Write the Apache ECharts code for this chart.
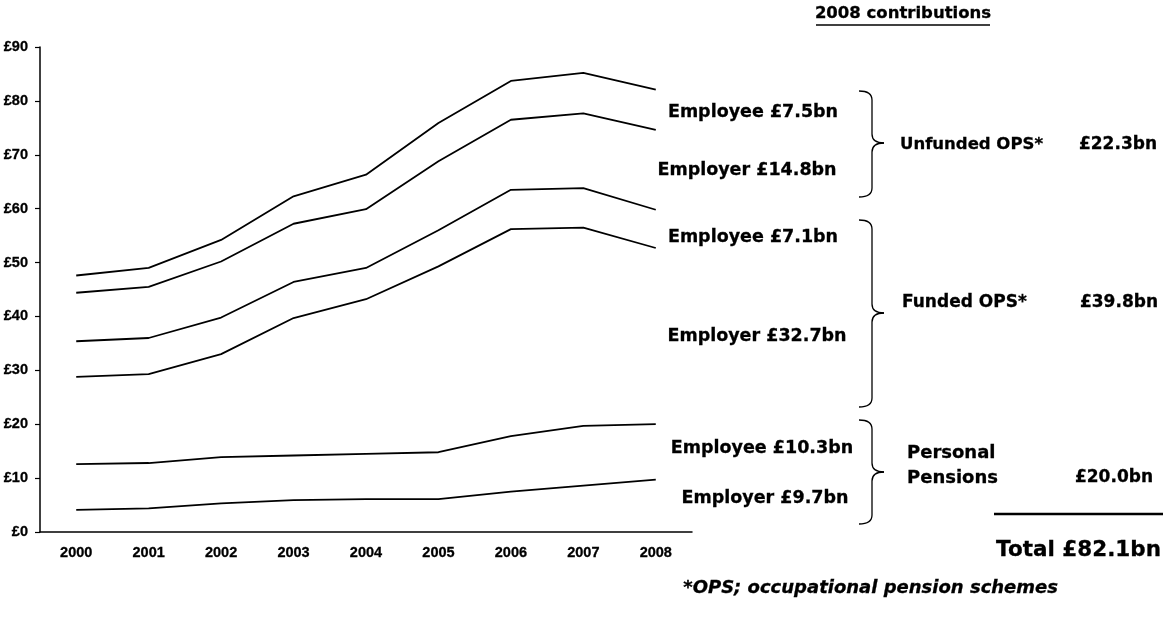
<!DOCTYPE html>
<html>
<head>
<meta charset="utf-8">
<script src="https://cdn.jsdelivr.net/npm/echarts@6/dist/echarts.min.js"></script>
<style>
  html, body { margin: 0; padding: 0; background: #fff; }
  #chart { width: 1163px; height: 618px; }
</style>
</head>
<body>
<div id="chart"></div>
<script>
// Pension contributions by scheme type, £bn (stacked from the bottom up)
const years = ['2000', '2001', '2002', '2003', '2004', '2005', '2006', '2007', '2008'];
const ppEmployer       = [4.1, 4.4, 5.3, 5.9, 6.1, 6.1, 7.5, 8.6, 9.7];
const ppEmployee       = [8.5, 8.4, 8.6, 8.3, 8.4, 8.7, 10.3, 11.1, 10.3];
const fundedEmployer   = [16.2, 16.5, 19.1, 25.5, 28.7, 34.5, 38.4, 36.8, 32.7];
const fundedEmployee   = [6.6, 6.7, 6.8, 6.7, 5.8, 6.7, 7.3, 7.3, 7.1];
const unfundedEmployer = [9.0, 9.5, 10.4, 10.8, 10.9, 12.8, 13.0, 13.9, 14.8];
const unfundedEmployee = [3.2, 3.5, 4.0, 5.1, 6.4, 7.1, 7.2, 7.5, 7.5];
const yTicks = [0, 10, 20, 30, 40, 50, 60, 70, 80, 90];

const FONT = '"DejaVu Sans", "Liberation Sans", Arial, sans-serif';
const AXIS_FONT = '"Liberation Sans", Arial, sans-serif';
const last = a => a[a.length - 1];
const bn = v => '£' + v.toFixed(1) + 'bn';

const unfundedTotal = last(unfundedEmployee) + last(unfundedEmployer);
const fundedTotal = last(fundedEmployee) + last(fundedEmployer);
const ppTotal = last(ppEmployee) + last(ppEmployer);
const grandTotal = unfundedTotal + fundedTotal + ppTotal;

function lineSeries(name, data) {
  return {
    name, type: 'line', stack: 'total', data,
    symbol: 'none', silent: true,
    lineStyle: { color: '#000', width: 1.8 },
    animation: false
  };
}

function text(str, x, y, size, opts = {}) {
  return {
    type: 'text', silent: true,
    style: {
      text: str, x, y,
      fill: '#000',
      stroke: '#000', lineWidth: 0.3,
      font: `${opts.italic ? 'italic ' : ''}bold ${size}px ${FONT}`,
      textAlign: opts.align || 'center',
      textVerticalAlign: 'middle'
    }
  };
}

// Right-hand curly brace: hook at x0, spine at xv, point at xt
function brace(x0, xv, xt, top, mid, bottom) {
  const r = 9;
  const st = { stroke: '#000', lineWidth: 1.3, fill: null };
  const bz = (x1, y1, cx, cy, x2, y2) => ({ type: 'bezierCurve', silent: true, shape: { x1, y1, cpx1: cx, cpy1: cy, x2, y2 }, style: st });
  const ln = (x1, y1, x2, y2) => ({ type: 'line', silent: true, shape: { x1, y1, x2, y2 }, style: st });
  return [
    bz(x0, top, xv, top, xv, top + r),
    ln(xv, top + r, xv, mid - r),
    bz(xv, mid - r, xv, mid, xt, mid),
    bz(xt, mid, xv, mid, xv, mid + r),
    ln(xv, mid + r, xv, bottom - r),
    bz(xv, bottom - r, xv, bottom, x0, bottom)
  ];
}

const axisText = { color: '#000', fontFamily: AXIS_FONT, fontWeight: 'bold', fontSize: 14.5, textBorderColor: '#000', textBorderWidth: 0.3 };

const chart = echarts.init(document.getElementById('chart'), null, { renderer: 'canvas' });

chart.setOption({
  backgroundColor: '#fff',
  animation: false,
  grid: { left: 40, right: 471, top: 47, bottom: 86 },
  xAxis: {
    type: 'category',
    data: years,
    boundaryGap: true,
    axisLine: { lineStyle: { color: '#000', width: 1.5 } },
    axisTick: { show: false },
    axisLabel: Object.assign({ margin: 13 }, axisText)
  },
  yAxis: {
    type: 'value',
    min: yTicks[0], max: last(yTicks), interval: 10,
    splitLine: { show: false },
    axisLine: { show: true, lineStyle: { color: '#000', width: 1.5 } },
    axisTick: { show: true, length: 5, lineStyle: { color: '#000', width: 1.2 } },
    axisLabel: Object.assign({ margin: 12, formatter: '£{value}' }, axisText)
  },
  series: [
    lineSeries('Personal pensions – employer', ppEmployer),
    lineSeries('Personal pensions – employee', ppEmployee),
    lineSeries('Funded OPS – employer', fundedEmployer),
    lineSeries('Funded OPS – employee', fundedEmployee),
    lineSeries('Unfunded OPS – employer', unfundedEmployer),
    lineSeries('Unfunded OPS – employee', unfundedEmployee)
  ],
  graphic: [
    text('2008 contributions', 903, 14, 16.5),
    { type: 'line', silent: true, shape: { x1: 816, y1: 25, x2: 990, y2: 25 }, style: { stroke: '#000', lineWidth: 1.5 } },

    text('Employee ' + bn(last(unfundedEmployee)), 753, 112, 17.5),
    text('Employer ' + bn(last(unfundedEmployer)), 747, 170, 17.5),
    text('Employee ' + bn(last(fundedEmployee)), 753, 237, 17.5),
    text('Employer ' + bn(last(fundedEmployer)), 757, 336, 17.5),
    text('Employee ' + bn(last(ppEmployee)), 762, 448, 17.5),
    text('Employer ' + bn(last(ppEmployer)), 765, 498, 17.5),

    ...brace(859, 872, 884, 91, 143, 197),
    ...brace(859, 872, 884, 220, 313, 407),
    ...brace(859, 872, 884, 420, 472, 524),

    text('Unfunded OPS*', 900, 145, 16.5, { align: 'left' }),
    text(bn(unfundedTotal), 1157, 145, 17, { align: 'right' }),
    text('Funded OPS*', 902, 303, 17, { align: 'left' }),
    text(bn(fundedTotal), 1158, 303, 17, { align: 'right' }),
    text('Personal', 907, 453, 18, { align: 'left' }),
    text('Pensions', 907, 478, 18, { align: 'left' }),
    text(bn(ppTotal), 1153, 478, 17, { align: 'right' }),

    { type: 'line', silent: true, shape: { x1: 994, y1: 514, x2: 1163, y2: 514 }, style: { stroke: '#000', lineWidth: 2.5 } },
    text('Total ' + bn(grandTotal), 1161, 550, 21.5, { align: 'right' }),
    text('*OPS; occupational pension schemes', 1058, 588, 18, { align: 'right', italic: true })
  ]
});
</script>
</body>
</html>
